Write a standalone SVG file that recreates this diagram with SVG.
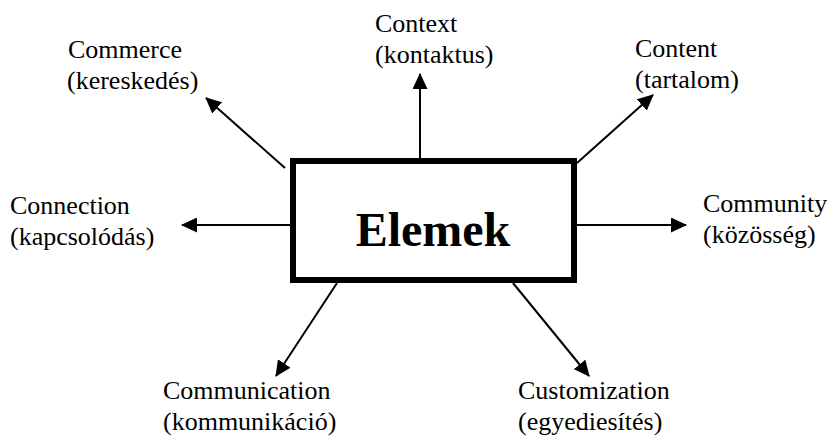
<svg xmlns="http://www.w3.org/2000/svg" width="835" height="438" viewBox="0 0 835 438">
<defs>
<style>
.lbl{font-family:"Liberation Serif","Times New Roman",serif;font-size:26px;fill:#000}
.title{font-family:"Liberation Serif","Times New Roman",serif;font-size:48px;font-weight:bold;fill:#000}
.conn{stroke:#000;stroke-width:2;fill:none;marker-end:url(#arrow)}
.box{fill:#fff;stroke:#000;stroke-width:6}
</style>
<marker id="arrow" markerUnits="userSpaceOnUse" markerWidth="16" markerHeight="15" refX="15" refY="7.5" orient="auto" viewBox="0 0 16 15">
<path d="M0,0 L16,7.5 L0,15 z" fill="#000"/>
</marker>
</defs>
<rect width="835" height="438" fill="#fff"/>
<g id="connectors">
<line class="conn" x1="285" y1="168" x2="206" y2="98"/>
<line class="conn" x1="420" y1="158" x2="420" y2="74"/>
<line class="conn" x1="577" y1="163" x2="653" y2="95"/>
<line class="conn" x1="577" y1="225" x2="686" y2="225"/>
<line class="conn" x1="290" y1="225" x2="182" y2="225"/>
<line class="conn" x1="337" y1="283" x2="276" y2="376"/>
<line class="conn" x1="513" y1="283" x2="589" y2="376"/>
</g>
<g id="node-elemek">
<rect class="box" x="293" y="161" width="281" height="119"/>
<text class="title" x="433" y="246" text-anchor="middle">Elemek</text>
</g>
<g id="node-commerce">
<text class="lbl" x="68" y="58">Commerce</text>
<text class="lbl" x="67" y="89">(kereskedés)</text>
</g>
<g id="node-context">
<text class="lbl" x="375" y="32">Context</text>
<text class="lbl" x="375" y="63">(kontaktus)</text>
</g>
<g id="node-content">
<text class="lbl" x="635" y="57">Content</text>
<text class="lbl" x="635" y="88">(tartalom)</text>
</g>
<g id="node-connection">
<text class="lbl" x="10" y="214">Connection</text>
<text class="lbl" x="10" y="245">(kapcsolódás)</text>
</g>
<g id="node-community">
<text class="lbl" x="703" y="212">Community</text>
<text class="lbl" x="703" y="243">(közösség)</text>
</g>
<g id="node-communication">
<text class="lbl" x="163" y="399">Communication</text>
<text class="lbl" x="163" y="430">(kommunikáció)</text>
</g>
<g id="node-customization">
<text class="lbl" x="518" y="399">Customization</text>
<text class="lbl" x="518" y="430">(egyediesítés)</text>
</g>
</svg>
